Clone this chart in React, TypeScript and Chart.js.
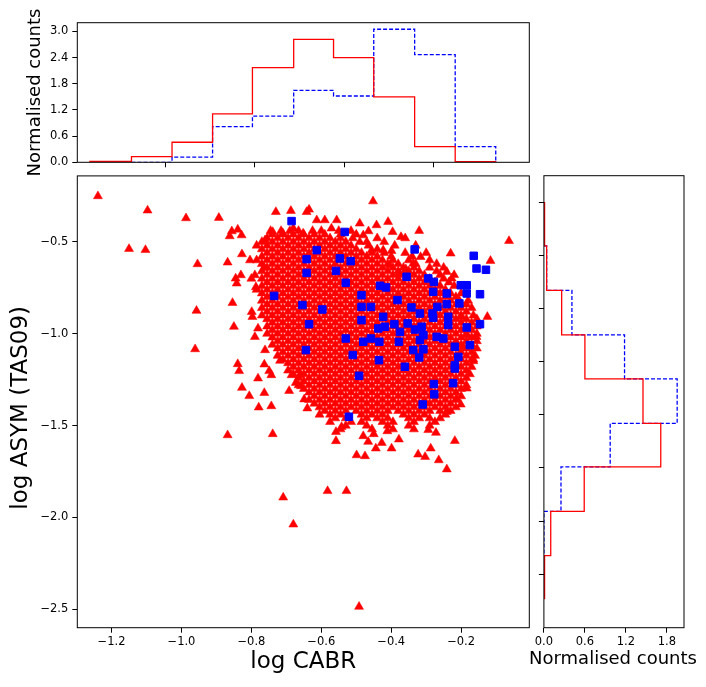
import { useEffect, useRef } from 'react';
import Chart from 'chart.js/auto';

const FONT = "'DejaVu Sans', sans-serif";

// axis limits and ticks of the scatter panel
const xRange = [-1.298, -0.005];
const yRange = [-2.6, -0.141];
const xTicks = [-1.2, -1.0, -0.8, -0.6, -0.4, -0.2];
const yTicks = [-2.5, -2.0, -1.5, -1.0, -0.5];

// marginal histograms
const countRange = [0, 3.2];
const countTicks = [0, 0.6, 1.2, 1.8, 2.4, 3.0];
const sideCountRange = [0, 2.05];
const sideCountTicks = [0, 0.6, 1.2, 1.8];
const topHistTicks = [-1.047, -0.79, -0.534, -0.278];
const sideHistTicks = [-0.288, -0.577, -0.862, -1.153, -1.442, -1.731, -2.021, -2.311];

const topEdgesRed = [-1.262, -1.143, -1.027, -0.911, -0.797, -0.679, -0.565, -0.45, -0.333, -0.217, -0.101];
const topCountsRed = [0.02, 0.13, 0.46, 1.11, 2.17, 2.82, 2.4, 1.5, 0.36, 0.015];
const topEdgesBlue = [-1.143, -1.027, -0.911, -0.797, -0.679, -0.565, -0.45, -0.333, -0.217, -0.101];
const topCountsBlue = [0, 0.12, 0.82, 1.06, 1.65, 1.52, 3.05, 2.47, 0.36];

const sideEdgesRed = [-0.288, -0.523, -0.765, -1.007, -1.246, -1.488, -1.725, -1.967, -2.208, -2.442];
const sideCountsRed = [0.01, 0.04, 0.26, 0.6, 1.45, 1.71, 0.59, 0.1, 0.01];
const sideEdgesBlue = [-0.523, -0.765, -1.007, -1.246, -1.488, -1.725, -1.967, -2.208];
const sideCountsBlue = [0.04, 0.41, 1.18, 1.95, 0.97, 0.25, 0];

// red triangles: scattered points around the cloud
const redScatter = [
  [-1.239, -0.251], [-1.097, -0.329], [-0.987, -0.371], [-0.893, -0.369], [-1.15, -0.538], [-1.103, -0.544],
  [-0.954, -0.621], [-0.957, -0.875], [-0.85, -0.962], [-0.961, -1.084], [-0.854, -0.832], [-0.868, -0.612],
  [-0.73, -0.337], [-0.687, -0.331], [-0.642, -0.337], [-0.856, -0.442], [-0.839, -0.433], [-0.828, -0.464],
  [-0.862, -0.469], [-0.827, -0.567], [-0.804, -0.6], [-0.845, -0.699], [-0.842, -0.726], [-0.83, -0.681],
  [-0.79, -0.681], [-0.763, -0.641], [-0.787, -0.746], [-0.799, -0.881], [-0.797, -0.908], [-0.781, -0.971],
  [-0.79, -1.017], [-0.761, -1.089], [-0.839, -1.165], [-0.763, -1.167], [-0.718, -1.147], [-0.761, -0.491],
  [-0.739, -0.446], [-0.71, -0.453], [-0.835, -1.203], [-0.749, -1.203], [-0.743, -1.225], [-0.781, -1.243],
  [-0.827, -1.294], [-0.806, -1.339], [-0.763, -1.322], [-0.779, -1.401], [-0.743, -1.394], [-0.692, -1.311],
  [-0.685, -1.225], [-0.661, -1.225], [-0.673, -1.267], [-0.658, -1.285], [-0.649, -1.357], [-0.64, -1.406],
  [-0.868, -1.552], [-0.739, -1.546], [-0.709, -1.891], [-0.68, -2.038], [-0.582, -1.856], [-0.528, -1.856],
  [-0.241, -1.738], [-0.264, -1.688], [-0.218, -1.583], [-0.323, -1.657], [-0.303, -1.67], [-0.287, -1.624],
  [-0.499, -1.661], [-0.475, -1.666], [-0.444, -1.624], [-0.399, -1.624], [-0.427, -1.594], [-0.378, -1.575],
  [-0.558, -1.584], [-0.48, -1.557], [-0.466, -1.588], [-0.45, -1.546], [-0.411, -1.53], [-0.558, -1.534],
  [-0.542, -1.507], [-0.272, -1.539], [-0.294, -1.524], [-0.184, -1.298], [-0.201, -1.385], [-0.213, -1.352],
  [-0.241, -1.425], [-0.165, -1.149], [-0.492, -2.486], [-0.452, -0.279], [-0.063, -0.495], [-0.116, -0.603],
  [-0.23, -0.563], [-0.316, -0.582], [-0.32, -0.44], [-0.409, -0.391], [-0.442, -0.409], [-0.465, -0.442],
  [-0.49, -0.4], [-0.396, -0.446], [-0.372, -0.473], [-0.423, -0.545], [-0.399, -0.549], [-0.456, -0.545],
  [-0.337, -0.618], [-0.358, -0.649], [-0.404, -0.627], [-0.377, -0.672], [-0.241, -0.663], [-0.227, -0.699],
  [-0.125, -0.908], [-0.165, -1.14], [-0.208, -1.12], [-0.194, -1.071], [-0.184, -1.008], [-0.156, -1.017],
  [-0.201, -0.908], [-0.635, -0.324], [-0.613, -0.382], [-0.59, -0.382], [-0.556, -0.382], [-0.571, -0.427],
  [-0.48, -0.464], [-0.47, -0.5], [-0.68, -0.427], [-0.652, -0.454],
];

// red triangles: the dense core, one row of x values per y level
const redCoreRows: [number, number[]][] = [
  [-0.44, [-0.745, -0.715, -0.69, -0.665, -0.625, -0.6, -0.55, -0.515]],
  [-0.46, [-0.74, -0.71, -0.68, -0.65, -0.62, -0.59, -0.545, -0.5]],
  [-0.48, [-0.755, -0.725, -0.695, -0.665, -0.635, -0.605, -0.575, -0.545, -0.51, -0.44, -0.36]],
  [-0.5, [-0.77, -0.74, -0.71, -0.68, -0.65, -0.62, -0.59, -0.56, -0.53, -0.49, -0.42]],
  [-0.52, [-0.785, -0.755, -0.725, -0.695, -0.665, -0.635, -0.605, -0.575, -0.545, -0.515, -0.465, -0.39, -0.33]],
  [-0.54, [-0.77, -0.74, -0.71, -0.68, -0.65, -0.62, -0.59, -0.56, -0.53, -0.5, -0.44]],
  [-0.56, [-0.755, -0.725, -0.695, -0.665, -0.635, -0.605, -0.575, -0.545, -0.515, -0.485, -0.455, -0.42, -0.36, -0.3]],
  [-0.58, [-0.77, -0.74, -0.71, -0.68, -0.65, -0.62, -0.59, -0.56, -0.53, -0.5, -0.47, -0.44, -0.4, -0.34]],
  [-0.6, [-0.785, -0.755, -0.725, -0.695, -0.665, -0.635, -0.605, -0.575, -0.545, -0.515, -0.485, -0.455, -0.425, -0.395, -0.35, -0.29]],
  [-0.62, [-0.77, -0.74, -0.71, -0.68, -0.65, -0.62, -0.59, -0.56, -0.53, -0.5, -0.47, -0.44, -0.41, -0.38, -0.33, -0.27]],
  [-0.64, [-0.755, -0.725, -0.695, -0.665, -0.635, -0.605, -0.575, -0.545, -0.515, -0.485, -0.455, -0.425, -0.395, -0.365, -0.335, -0.29, -0.25]],
  [-0.66, [-0.77, -0.74, -0.71, -0.68, -0.65, -0.62, -0.59, -0.56, -0.53, -0.5, -0.47, -0.44, -0.41, -0.38, -0.35, -0.32, -0.27]],
  [-0.68, [-0.755, -0.725, -0.695, -0.665, -0.635, -0.605, -0.575, -0.545, -0.515, -0.485, -0.455, -0.425, -0.395, -0.365, -0.335, -0.305, -0.26, -0.22]],
  [-0.7, [-0.8, -0.77, -0.74, -0.71, -0.68, -0.65, -0.62, -0.59, -0.56, -0.53, -0.5, -0.47, -0.44, -0.41, -0.38, -0.35, -0.32, -0.29, -0.25]],
  [-0.72, [-0.755, -0.725, -0.695, -0.665, -0.635, -0.605, -0.575, -0.545, -0.515, -0.485, -0.455, -0.425, -0.395, -0.365, -0.335, -0.305, -0.275, -0.235]],
  [-0.74, [-0.77, -0.74, -0.71, -0.68, -0.65, -0.62, -0.59, -0.56, -0.53, -0.5, -0.47, -0.44, -0.41, -0.38, -0.35, -0.32, -0.29, -0.26, -0.22]],
  [-0.76, [-0.785, -0.755, -0.725, -0.695, -0.665, -0.635, -0.605, -0.575, -0.545, -0.515, -0.485, -0.455, -0.425, -0.395, -0.365, -0.335, -0.305, -0.275, -0.245]],
  [-0.78, [-0.77, -0.74, -0.71, -0.68, -0.65, -0.62, -0.59, -0.56, -0.53, -0.5, -0.47, -0.44, -0.41, -0.38, -0.35, -0.32, -0.29, -0.26, -0.23, -0.2]],
  [-0.8, [-0.755, -0.725, -0.695, -0.665, -0.635, -0.605, -0.575, -0.545, -0.515, -0.485, -0.455, -0.425, -0.395, -0.365, -0.335, -0.305, -0.275, -0.245, -0.215]],
  [-0.82, [-0.77, -0.74, -0.71, -0.68, -0.65, -0.62, -0.59, -0.56, -0.53, -0.5, -0.47, -0.44, -0.41, -0.38, -0.35, -0.32, -0.29, -0.26, -0.23, -0.205, -0.18]],
  [-0.84, [-0.755, -0.725, -0.695, -0.665, -0.635, -0.605, -0.575, -0.545, -0.515, -0.485, -0.455, -0.425, -0.395, -0.365, -0.335, -0.305, -0.275, -0.245, -0.215, -0.185]],
  [-0.86, [-0.77, -0.74, -0.71, -0.68, -0.65, -0.62, -0.59, -0.56, -0.53, -0.5, -0.47, -0.44, -0.41, -0.38, -0.35, -0.32, -0.29, -0.26, -0.23, -0.2, -0.17]],
  [-0.88, [-0.755, -0.725, -0.695, -0.665, -0.635, -0.605, -0.575, -0.545, -0.515, -0.485, -0.455, -0.425, -0.395, -0.365, -0.335, -0.305, -0.275, -0.245, -0.215, -0.185]],
  [-0.9, [-0.77, -0.74, -0.71, -0.68, -0.65, -0.62, -0.59, -0.56, -0.53, -0.5, -0.47, -0.44, -0.41, -0.38, -0.35, -0.32, -0.29, -0.26, -0.23, -0.2, -0.165]],
  [-0.92, [-0.755, -0.725, -0.695, -0.665, -0.635, -0.605, -0.575, -0.545, -0.515, -0.485, -0.455, -0.425, -0.395, -0.365, -0.335, -0.305, -0.275, -0.245, -0.215, -0.185, -0.155]],
  [-0.94, [-0.74, -0.71, -0.68, -0.65, -0.62, -0.59, -0.56, -0.53, -0.5, -0.47, -0.44, -0.41, -0.38, -0.35, -0.32, -0.29, -0.26, -0.23, -0.2, -0.17]],
  [-0.96, [-0.755, -0.725, -0.695, -0.665, -0.635, -0.605, -0.575, -0.545, -0.515, -0.485, -0.455, -0.425, -0.395, -0.365, -0.335, -0.305, -0.275, -0.245, -0.215, -0.185, -0.155]],
  [-0.98, [-0.74, -0.71, -0.68, -0.65, -0.62, -0.59, -0.56, -0.53, -0.5, -0.47, -0.44, -0.41, -0.38, -0.35, -0.32, -0.29, -0.26, -0.23, -0.2, -0.17]],
  [-1.0, [-0.755, -0.725, -0.695, -0.665, -0.635, -0.605, -0.575, -0.545, -0.515, -0.485, -0.455, -0.425, -0.395, -0.365, -0.335, -0.305, -0.275, -0.245, -0.215, -0.185, -0.155]],
  [-1.02, [-0.74, -0.71, -0.68, -0.65, -0.62, -0.59, -0.56, -0.53, -0.5, -0.47, -0.44, -0.41, -0.38, -0.35, -0.32, -0.29, -0.26, -0.23, -0.2, -0.17]],
  [-1.04, [-0.725, -0.695, -0.665, -0.635, -0.605, -0.575, -0.545, -0.515, -0.485, -0.455, -0.425, -0.395, -0.365, -0.335, -0.305, -0.275, -0.245, -0.215, -0.185, -0.155]],
  [-1.06, [-0.74, -0.71, -0.68, -0.65, -0.62, -0.59, -0.56, -0.53, -0.5, -0.47, -0.44, -0.41, -0.38, -0.35, -0.32, -0.29, -0.26, -0.23, -0.2, -0.17]],
  [-1.08, [-0.725, -0.695, -0.665, -0.635, -0.605, -0.575, -0.545, -0.515, -0.485, -0.455, -0.425, -0.395, -0.365, -0.335, -0.305, -0.275, -0.245, -0.215, -0.185, -0.155]],
  [-1.1, [-0.71, -0.68, -0.65, -0.62, -0.59, -0.56, -0.53, -0.5, -0.47, -0.44, -0.41, -0.38, -0.35, -0.32, -0.29, -0.26, -0.23, -0.2, -0.17]],
  [-1.12, [-0.725, -0.695, -0.665, -0.635, -0.605, -0.575, -0.545, -0.515, -0.485, -0.455, -0.425, -0.395, -0.365, -0.335, -0.305, -0.275, -0.245, -0.215, -0.185, -0.16]],
  [-1.14, [-0.71, -0.68, -0.65, -0.62, -0.59, -0.56, -0.53, -0.5, -0.47, -0.44, -0.41, -0.38, -0.35, -0.32, -0.29, -0.26, -0.23, -0.2, -0.17]],
  [-1.16, [-0.695, -0.665, -0.635, -0.605, -0.575, -0.545, -0.515, -0.485, -0.455, -0.425, -0.395, -0.365, -0.335, -0.305, -0.275, -0.245, -0.215, -0.185]],
  [-1.18, [-0.68, -0.65, -0.62, -0.59, -0.56, -0.53, -0.5, -0.47, -0.44, -0.41, -0.38, -0.35, -0.32, -0.29, -0.26, -0.23, -0.2, -0.17]],
  [-1.2, [-0.695, -0.665, -0.635, -0.605, -0.575, -0.545, -0.515, -0.485, -0.455, -0.425, -0.395, -0.365, -0.335, -0.305, -0.275, -0.245, -0.215, -0.185]],
  [-1.22, [-0.68, -0.65, -0.62, -0.59, -0.56, -0.53, -0.5, -0.47, -0.44, -0.41, -0.38, -0.35, -0.32, -0.29, -0.26, -0.23, -0.2, -0.175]],
  [-1.24, [-0.665, -0.635, -0.605, -0.575, -0.545, -0.515, -0.485, -0.455, -0.425, -0.395, -0.365, -0.335, -0.305, -0.275, -0.245, -0.215, -0.185]],
  [-1.26, [-0.65, -0.62, -0.59, -0.56, -0.53, -0.5, -0.47, -0.44, -0.41, -0.38, -0.35, -0.32, -0.29, -0.26, -0.23, -0.2]],
  [-1.28, [-0.665, -0.635, -0.605, -0.575, -0.545, -0.515, -0.485, -0.455, -0.425, -0.395, -0.365, -0.335, -0.305, -0.275, -0.245, -0.215, -0.185]],
  [-1.3, [-0.65, -0.62, -0.59, -0.56, -0.53, -0.5, -0.47, -0.44, -0.41, -0.38, -0.35, -0.32, -0.29, -0.26, -0.23, -0.2]],
  [-1.32, [-0.635, -0.605, -0.575, -0.545, -0.515, -0.485, -0.455, -0.425, -0.395, -0.365, -0.335, -0.305, -0.275, -0.245, -0.215]],
  [-1.34, [-0.62, -0.59, -0.56, -0.53, -0.5, -0.47, -0.44, -0.41, -0.38, -0.35, -0.32, -0.29, -0.26, -0.23, -0.2]],
  [-1.36, [-0.635, -0.605, -0.575, -0.545, -0.515, -0.485, -0.455, -0.425, -0.395, -0.365, -0.335, -0.305, -0.275, -0.245, -0.215]],
  [-1.38, [-0.62, -0.59, -0.56, -0.53, -0.5, -0.47, -0.44, -0.41, -0.38, -0.35, -0.32, -0.29, -0.26, -0.23]],
  [-1.4, [-0.605, -0.575, -0.545, -0.515, -0.485, -0.455, -0.425, -0.395, -0.365, -0.335, -0.305, -0.275, -0.245, -0.215]],
  [-1.42, [-0.59, -0.56, -0.53, -0.5, -0.47, -0.44, -0.41, -0.38, -0.35, -0.32, -0.29, -0.26, -0.23]],
  [-1.44, [-0.605, -0.575, -0.545, -0.485, -0.455, -0.425, -0.365, -0.335, -0.305, -0.245]],
  [-1.46, [-0.56, -0.53, -0.47, -0.44, -0.41, -0.35, -0.32, -0.29, -0.26]],
  [-1.48, [-0.575, -0.515, -0.485, -0.425, -0.395, -0.335, -0.275]],
  [-1.5, [-0.53, -0.47, -0.41, -0.35, -0.29]],
  [-1.52, [-0.545, -0.455, -0.395, -0.335]],
];

// blue squares
const blueScatter = [
  [-0.492, -1.229], [-0.521, -1.452], [-0.31, -1.385], [-0.277, -1.33], [-0.278, -1.274], [-0.223, -1.269],
  [-0.218, -1.189], [-0.361, -1.18], [-0.435, -1.144], [-0.533, -0.446], [-0.613, -0.545], [-0.642, -0.594],
  [-0.642, -0.669], [-0.547, -0.59], [-0.516, -0.605], [-0.558, -0.658], [-0.53, -0.723], [-0.333, -0.541],
  [-0.164, -0.576], [-0.156, -0.645], [-0.129, -0.652], [-0.356, -0.69], [-0.294, -0.699], [-0.278, -0.718],
  [-0.28, -0.772], [-0.201, -0.736], [-0.184, -0.736], [-0.184, -0.781], [-0.146, -0.785], [-0.241, -0.781],
  [-0.241, -0.839], [-0.205, -0.835], [-0.268, -0.854], [-0.282, -0.89], [-0.28, -0.913], [-0.237, -0.908],
  [-0.237, -0.953], [-0.184, -0.966], [-0.146, -0.948], [-0.175, -1.062], [-0.218, -1.071], [-0.208, -1.126],
  [-0.218, -1.171], [-0.27, -1.017], [-0.251, -1.026], [-0.485, -0.79], [-0.485, -0.854], [-0.458, -0.854],
  [-0.382, -0.817], [-0.432, -0.739], [-0.415, -0.748], [-0.597, -0.868], [-0.654, -0.844], [-0.485, -0.926],
  [-0.423, -0.908], [-0.342, -0.857], [-0.318, -0.89], [-0.391, -0.948], [-0.353, -0.944], [-0.375, -0.99],
  [-0.437, -0.971], [-0.418, -0.962], [-0.332, -0.977], [-0.313, -0.962], [-0.308, -1.008], [-0.318, -1.035],
  [-0.635, -0.948], [-0.53, -1.026], [-0.48, -1.044], [-0.458, -1.026], [-0.434, -1.044], [-0.378, -1.044],
  [-0.337, -1.089], [-0.308, -1.085], [-0.32, -1.129], [-0.51, -1.116], [-0.644, -1.089], [-0.685, -0.387],
  [-0.735, -0.794],
];

const fmt = (v: number | string) => Number(v).toFixed(1).replace('-', '\u2212');

// outline of a step histogram drawn along x
function stepAlongX(edges: number[], counts: number[]) {
  const pts = [{ x: edges[0], y: 0 }];
  counts.forEach((c, i) => {
    pts.push({ x: edges[i], y: c }, { x: edges[i + 1], y: c });
  });
  pts.push({ x: edges[counts.length], y: 0 });
  return pts;
}

// same, but lying on its side
function stepAlongY(edges: number[], counts: number[]) {
  return stepAlongX(edges, counts).map((p) => ({ x: p.y, y: p.x }));
}

const frame = {
  id: 'frame',
  afterDraw(chart: any) {
    const { ctx, chartArea: a } = chart;
    ctx.save();
    ctx.strokeStyle = '#000';
    ctx.lineWidth = 1;
    ctx.strokeRect(a.left, a.top, a.right - a.left, a.bottom - a.top);
    ctx.restore();
  },
};

// axis captions drawn by hand, so they are not squeezed to the axis width
function caption(text: string, size: number, dx: number, dy: number, vertical: boolean) {
  return {
    id: 'caption',
    afterDraw(chart: any) {
      const { ctx, chartArea: a } = chart;
      ctx.save();
      ctx.font = `${size}px ${FONT}`;
      ctx.fillStyle = '#000';
      ctx.textAlign = 'center';
      ctx.textBaseline = 'middle';
      if (vertical) {
        ctx.translate(dx, (a.top + a.bottom) / 2 + dy);
        ctx.rotate(-Math.PI / 2);
        ctx.fillText(text, 0, 0);
      } else {
        ctx.fillText(text, (a.left + a.right) / 2 + dx, a.bottom + dy);
      }
      ctx.restore();
    },
  };
}

function axis(range: number[], values: number[], thickness: number, labels: boolean, pad: number) {
  return {
    type: 'linear',
    min: range[0],
    max: range[1],
    afterBuildTicks: (s: any) => {
      s.ticks = values.map((v) => ({ value: v }));
    },
    afterFit: (s: any) => {
      if (s.isHorizontal()) s.height = thickness;
      else s.width = thickness;
    },
    grid: { display: true, drawOnChartArea: false, drawTicks: true, tickLength: 5, tickWidth: 1, tickColor: '#000' },
    border: { display: false },
    ticks: { display: labels, padding: pad, font: { family: FONT, size: 11.5 }, color: '#000', callback: fmt, autoSkip: false, maxRotation: 0 },
  };
}

const common = {
  animation: false,
  responsive: true,
  maintainAspectRatio: false,
  events: [],
  plugins: { legend: { display: false }, tooltip: { enabled: false } },
};

const redLine = { showLine: true, pointRadius: 0, borderColor: '#ff0000', borderWidth: 1.3, fill: false };
const blueLine = { showLine: true, pointRadius: 0, borderColor: '#0000ff', borderWidth: 1.3, borderDash: [4, 2], fill: false };

export default function App() {
  const topRef = useRef<HTMLCanvasElement>(null);
  const mainRef = useRef<HTMLCanvasElement>(null);
  const sideRef = useRef<HTMLCanvasElement>(null);

  useEffect(() => {
    Chart.defaults.font.family = FONT;
    Chart.defaults.color = '#000';

    const redPoints = redScatter.map(([x, y]) => ({ x, y }));
    redCoreRows.forEach(([y, xs]) => xs.forEach((x) => redPoints.push({ x, y })));
    const bluePoints = blueScatter.map(([x, y]) => ({ x, y }));

    const main = new Chart(mainRef.current!, {
      type: 'scatter',
      data: {
        datasets: [
          { data: bluePoints, pointStyle: 'rect', pointRadius: 5.3, backgroundColor: '#0000ff', borderColor: '#0000ff', borderWidth: 1, order: 1 },
          { data: redPoints, pointStyle: 'triangle', pointRadius: 5.2, backgroundColor: '#ff0000', borderColor: '#ff0000', borderWidth: 0.5, order: 2 },
        ],
      },
      options: {
        ...common,
        layout: { padding: { top: 10.7, right: 10.7, left: 0, bottom: 0 } },
        scales: {
          x: axis(xRange, xTicks, 59.3, true, 2.5),
          y: axis(yRange, yTicks, 77.3, true, 4),
        },
      } as any,
      plugins: [frame, caption('log CABR', 23, 0, 34, false), caption('log ASYM (TAS09)', 23, 21, 6, true)],
    });

    const top = new Chart(topRef.current!, {
      type: 'scatter',
      data: {
        datasets: [
          { data: stepAlongX(topEdgesRed, topCountsRed), ...redLine },
          { data: stepAlongX(topEdgesBlue, topCountsBlue), ...blueLine },
        ],
      },
      options: {
        ...common,
        layout: { padding: { top: 22.7, right: 10.7, left: 0, bottom: 0 } },
        scales: {
          x: axis(xRange, topHistTicks, 17.7, false, 0),
          y: axis(countRange, countTicks, 77.3, true, 4),
        },
      } as any,
      plugins: [frame, caption('Normalised counts', 18, 35, 0, true)],
    });

    const side = new Chart(sideRef.current!, {
      type: 'scatter',
      data: {
        datasets: [
          { data: stepAlongY(sideEdgesRed, sideCountsRed), ...redLine },
          { data: stepAlongY(sideEdgesBlue, sideCountsBlue), ...blueLine },
        ],
      },
      options: {
        ...common,
        layout: { padding: { top: 10.7, right: 22, left: 0, bottom: 0 } },
        scales: {
          x: axis(sideCountRange, sideCountTicks, 59.3, true, 2.5),
          y: axis(yRange, sideHistTicks, 23.9, false, 0),
        },
      } as any,
      plugins: [frame, caption('Normalised counts', 18, -1, 32, false)],
    });

    return () => {
      main.destroy();
      top.destroy();
      side.destroy();
    };
  }, []);

  return (
    <div style={{ position: 'absolute', left: 0, top: 0, width: 706, height: 687, background: '#fff' }}>
      <div style={{ position: 'absolute', left: 0, top: 0, width: 540, height: 180 }}>
        <canvas ref={topRef} />
      </div>
      <div style={{ position: 'absolute', left: 0, top: 165, width: 540, height: 522 }}>
        <canvas ref={mainRef} />
      </div>
      <div style={{ position: 'absolute', left: 520, top: 165, width: 186, height: 522 }}>
        <canvas ref={sideRef} />
      </div>
    </div>
  );
}
